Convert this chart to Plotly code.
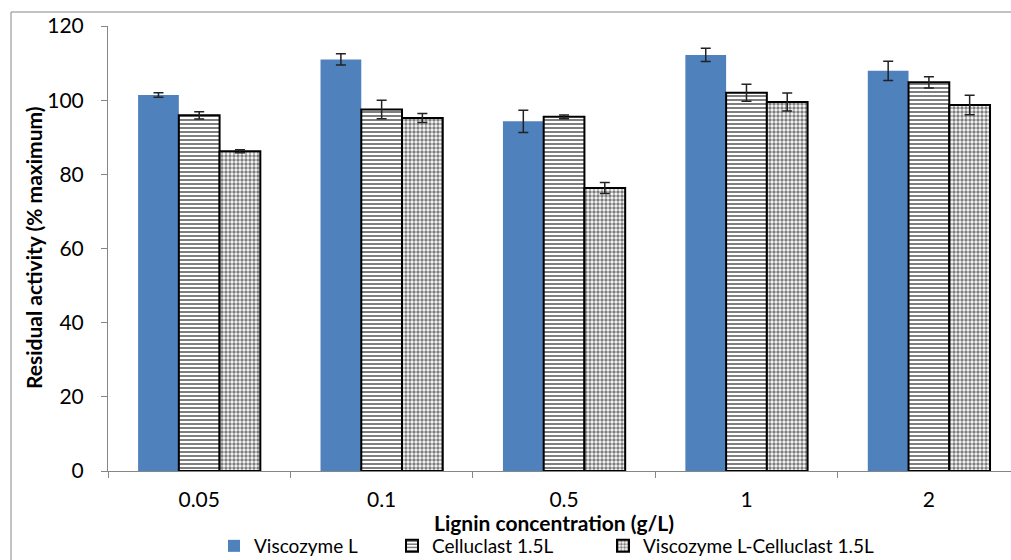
import plotly.graph_objects as go

categories = ["0.05", "0.1", "0.5", "1", "2"]
viscozyme = [101.4, 111.0, 94.3, 112.2, 107.9]
viscozyme_err = [0.6, 1.5, 3.0, 1.8, 2.6]
celluclast = [95.9, 97.5, 95.5, 102.0, 104.8]
celluclast_err = [1.0, 2.5, 0.5, 2.3, 1.5]
mixed = [86.2, 95.2, 76.3, 99.5, 98.7]
mixed_err = [0.4, 1.2, 1.5, 2.4, 2.6]

FONT = "Lato"
W, H = 1011, 560
L, T, B = 108, 26, 89
pw = W - L
ph = H - T - B


def px_x(x):
    return (x - L) / pw


def px_y(y):
    return (471 - y) / ph


fig = go.Figure()
fig.add_trace(go.Bar(
    x=categories, y=viscozyme, name="Viscozyme L", legend="legend",
    marker=dict(color="#4F81BD", line=dict(width=0)),
    error_y=dict(type="data", array=viscozyme_err, color="#222", thickness=1.5, width=5),
))
fig.add_trace(go.Bar(
    x=categories, y=celluclast, name="Celluclast 1.5L", legend="legend2",
    marker=dict(color="white", line=dict(color="black", width=2),
                pattern=dict(shape="-", fgcolor="black", bgcolor="white", size=4, solidity=0.5)),
    error_y=dict(type="data", array=celluclast_err, color="#222", thickness=1.5, width=5),
))
fig.add_trace(go.Bar(
    x=categories, y=mixed, name="Viscozyme L-Celluclast 1.5L", legend="legend3",
    marker=dict(color="white", line=dict(color="black", width=2),
                pattern=dict(shape=".", fgcolor="black", bgcolor="white", size=4, solidity=0.6)),
    error_y=dict(type="data", array=mixed_err, color="#222", thickness=1.5, width=5),
))

leg_common = dict(orientation="h", xanchor="left", yanchor="middle", y=px_y(546),
                  font=dict(family=FONT, size=19), itemwidth=30,
                  bgcolor="rgba(0,0,0,0)", borderwidth=0)

fig.update_layout(
    width=W, height=H,
    margin=dict(l=L, r=0, t=T, b=B, pad=0, autoexpand=False),
    paper_bgcolor="white", plot_bgcolor="white",
    barmode="group", bargap=0.33, bargroupgap=0,
    font=dict(family=FONT, size=21, color="black"),
    showlegend=True,
    legend=dict(x=px_x(214), **leg_common),
    legend2=dict(x=px_x(392), **leg_common),
    legend3=dict(x=px_x(603), **leg_common),
    xaxis=dict(range=[-0.5, 4.45], showline=True, linecolor="#868686", linewidth=1,
               ticks="outside", ticklen=6, tickcolor="#868686", tickson="boundaries",
               ticklabelstandoff=10, automargin=False,
               tickfont=dict(family=FONT, size=21), showgrid=False, zeroline=False),
    yaxis=dict(range=[0, 120], dtick=20, showline=True, linecolor="#868686", linewidth=1,
               ticks="outside", ticklen=6, tickcolor="#868686", ticklabelstandoff=13,
               automargin=False,
               tickfont=dict(family=FONT, size=21), showgrid=False, zeroline=False),
    annotations=[
        dict(text="<b>Lignin concentration (g/L)</b>", xref="paper", yref="paper",
             x=px_x(554), y=px_y(522), xanchor="center", yanchor="middle",
             showarrow=False, font=dict(family=FONT, size=21)),
        dict(text="<b>Residual activity (% maximum)</b>", xref="paper", yref="paper",
             x=px_x(34), y=px_y(248), xanchor="center", yanchor="middle",
             textangle=-90, showarrow=False, font=dict(family=FONT, size=21)),
    ],
    shapes=[
        dict(type="line", xref="paper", yref="paper", x0=px_x(11), x1=px_x(11),
             y0=px_y(12), y1=px_y(570), line=dict(color="#868686", width=1)),
        dict(type="line", xref="paper", yref="paper", x0=px_x(11), x1=1.02,
             y0=px_y(12), y1=px_y(12), line=dict(color="#868686", width=1)),
    ],
)

fig.write_html("out.html")
